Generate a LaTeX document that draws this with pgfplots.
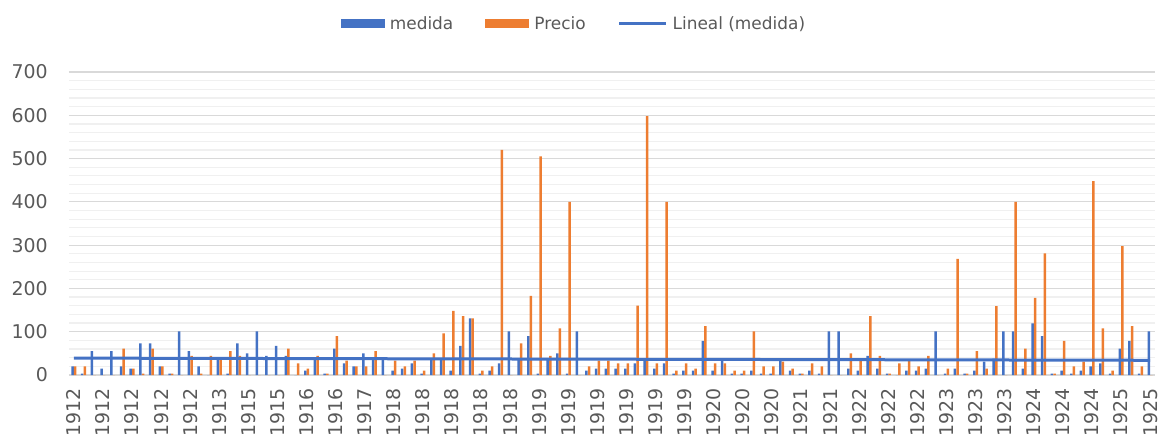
\documentclass[border=0pt]{standalone}
\usepackage{fontspec}
\setmainfont{DejaVu Sans}
\usepackage{pgfplots}
\usepackage{pgfplotstable}
\pgfplotsset{compat=1.18}
\definecolor{medblue}{HTML}{4472C4}
\definecolor{preorange}{HTML}{ED7D31}
\definecolor{txtgray}{HTML}{595959}
\definecolor{majgrid}{HTML}{D9D9D9}
\definecolor{mingrid}{HTML}{F0F0F0}

% c = category index, medida, precio
\pgfplotstableread{
c medida precio
0 20 20
1 3 20
2 55 0
3 15 0
4 55 0
5 20 61
6 15 15
7 73 3
8 73 61
9 20 20
10 3 3
11 101 0
12 55 44
13 20 3
14 0 44
15 38 38
16 3 55
17 73 44
18 50 0
19 101 0
20 44 0
21 67 0
22 44 61
23 0 27
24 10 15
25 35 44
26 3 3
27 61 90
28 27 33
29 20 20
30 50 20
31 35 55
32 35 0
33 10 33
34 15 20
35 27 33
36 3 10
37 35 50
38 35 96
39 10 148
40 67 136
41 131 131
42 3 10
43 10 20
44 27 520
45 101 0
46 35 73
47 90 183
48 3 505
49 35 44
50 50 108
51 3 400
52 101 0
53 10 20
54 15 33
55 15 33
56 15 27
57 15 27
58 27 160
59 35 598
60 15 27
61 27 400
62 3 10
63 10 27
64 10 15
65 79 113
66 10 27
67 35 27
68 3 10
69 3 10
70 10 101
71 3 20
72 3 20
73 35 31
74 10 15
75 3 3
76 10 27
77 3 20
78 101 0
79 101 0
80 15 50
81 10 38
82 44 136
83 15 44
84 3 3
85 0 27
86 10 33
87 10 20
88 15 44
89 101 0
90 3 15
91 15 268
92 3 3
93 10 55
94 31 15
95 38 159
96 101 0
97 101 400
98 15 61
99 119 178
100 90 281
101 3 3
102 10 79
103 3 20
104 10 31
105 20 448
106 27 108
107 3 10
108 61 298
109 79 113
110 3 20
111 101 0
}\datos

\begin{document}
\begin{tikzpicture}
\begin{axis}[
  scale only axis,
  width=1086bp, height=303bp,
  xmin=-0.5, xmax=111.5,
  ymin=0, ymax=700,
  enlargelimits=false,
  ytick={0,100,...,700},
  minor y tick num=4,
  ymajorgrids, yminorgrids,
  major grid style={majgrid, line width=1.2bp},
  minor grid style={mingrid, line width=1.2bp},
  axis line style={draw=none},
  major tick length=0pt, minor tick length=0pt,
  xtick={0,3,...,111},
  xticklabels={1912,1912,1912,1912,1912,1913,1915,1915,1916,1916,1917,1918,1918,1918,1918,1918,1919,1919,1919,1919,1919,1919,1920,1920,1920,1921,1921,1922,1922,1922,1923,1923,1923,1924,1924,1924,1925,1925},
  tick label style={font=\fontsize{19}{22}\selectfont, text=txtgray, inner sep=0pt},
  /pgf/number format/assume math mode=true,
  yticklabel shift=21bp,
  xticklabel style={rotate=90, anchor=east},
  xticklabel shift=13bp,
  legend columns=3,
  legend style={at={(0.465,1.16)}, anchor=center, draw=none, fill=none,
    font=\fontsize{17}{20}\selectfont, text=txtgray,
    /tikz/every odd column/.append style={column sep=3bp},
    /tikz/every even column/.append style={column sep=30bp}},
]
\addplot[ybar, bar width=2.5bp, bar shift=-1.3bp, fill=medblue, draw=none,
  legend image code/.code={\fill[medblue] (0bp,-4.5bp) rectangle (44bp,4.5bp);}]
  table[x=c, y=medida] {\datos};
\addlegendentry{medida}
\addplot[ybar, bar width=2.5bp, bar shift=1.3bp, fill=preorange, draw=none,
  legend image code/.code={\fill[preorange] (0bp,-4.5bp) rectangle (44bp,4.5bp);}]
  table[x=c, y=precio] {\datos};
\addlegendentry{Precio}
\addplot[medblue, line width=3bp, sharp plot,
  legend image code/.code={\draw[medblue, line width=3bp] (0bp,0bp) -- (47bp,0bp);}]
  coordinates {(0,39) (111,34)};
\addlegendentry{Lineal (medida)}
\end{axis}
\pgfresetboundingbox
\path[use as bounding box] (-69bp,-60bp) rectangle (1091bp,375bp);
\end{tikzpicture}
\end{document}
